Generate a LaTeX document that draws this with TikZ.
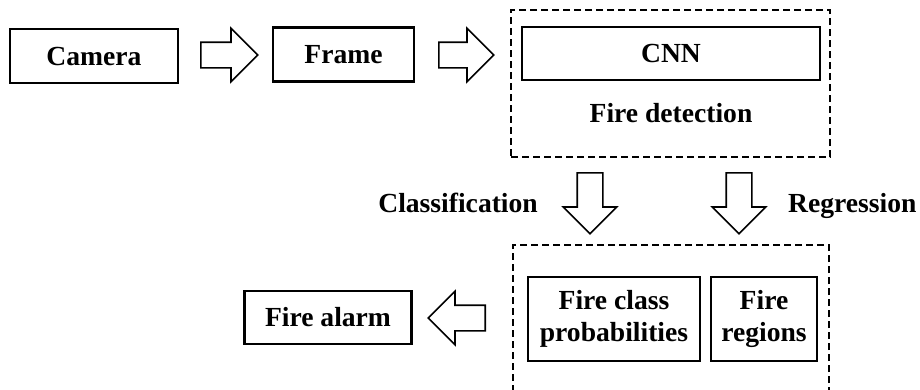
\documentclass[tikz,border=0pt]{standalone}
\usepackage{fontspec}
\setmainfont{Liberation Serif}
\usetikzlibrary{shapes.arrows,positioning}

\begin{document}
\begin{tikzpicture}[x=1pt, y=-1pt,
  box/.style={draw, line width=2.2pt, minimum width=#1, minimum height=54pt, inner sep=0pt, align=center, font=\bfseries\fontsize{27.6}{32}\selectfont},
  box/.default=150pt,
  grp/.style={draw, line width=2pt, dash pattern=on 7pt off 4pt, inner sep=0pt},
  blk/.style={draw, line width=1.6pt, single arrow, single arrow head extend=14pt, inner sep=12pt, minimum height=#1, shape border rotate=\arrdir, anchor=tail},
  blk/.default=57pt,
  lbl/.style={font=\bfseries\fontsize{27.6}{32}\selectfont, inner sep=0pt}
]
\useasboundingbox (0,0) rectangle (920,389);
\def\arrdir{0}
% top row
\node[box=168pt] (cam) at (94,56) {Camera};
\node[blk] (a1) at (200,55) {};
\node[box=141pt] (frm) at (343.5,54.5) {Frame};
\node[blk=55pt] (a2) at (438,55) {};
\node[grp, minimum width=319pt, minimum height=147pt] (det) at (670.5,83.5) {};
\node[box=298pt, minimum height=53pt] (cnn) at (671,53.5) {CNN};
\node[lbl] (detl) at (671,113) {Fire detection};

% outputs
\def\arrdir{270}
\node[blk=61pt] (dcls) at (590,172) {};
\node[blk=61pt] (dreg) at (739,172) {};
\node[lbl, anchor=base east] (cls) at (538,212) {Classification};
\node[lbl, anchor=base west] (reg) at (788,212) {Regression};
\node[grp, minimum width=316pt, minimum height=152pt] (res) at (671,321) {};
\node[box=172pt, minimum height=84pt] (prob) at (614,319) {Fire class\\probabilities};
\node[box=106pt, minimum height=84pt] (freg) at (764,319) {Fire\\regions};

% alarm
\def\arrdir{180}
\node[blk] (a3) at (486,318) {};
\node[box=167pt, minimum height=53pt] (alm) at (328,317.5) {Fire alarm};
\end{tikzpicture}
\end{document}
